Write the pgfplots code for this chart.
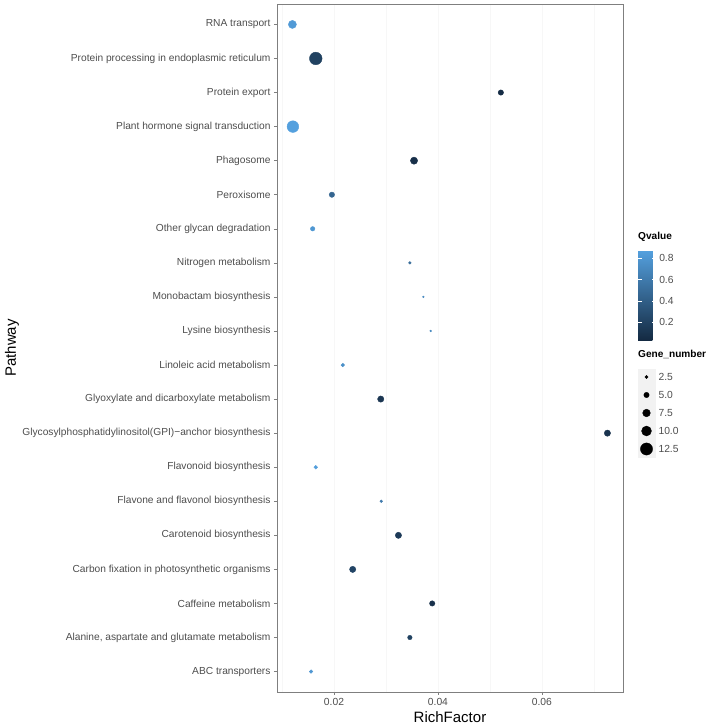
\documentclass[border=0pt]{standalone}
\usepackage{pgfplots}
\pgfplotsset{compat=1.18}
\usepackage{pgfplotstable}
\usepackage{fontspec}
\setmainfont{Liberation Sans}

\definecolor{tickgray}{HTML}{4D4D4D}
\definecolor{framegray}{HTML}{7F7F7F}
\definecolor{gridgray}{HTML}{F7F7F7}
\definecolor{keygray}{HTML}{F2F2F2}

\pgfplotstableread{
idx rf q g
1 0.0156 0.80 3
2 0.0346 0.20 4
3 0.0389 0.08 5
4 0.0236 0.22 6
5 0.0324 0.15 6
6 0.0291 0.60 2
7 0.0165 0.85 3
8 0.0726 0.10 6
9 0.0290 0.12 6
10 0.0217 0.75 3
11 0.0386 0.70 1
12 0.0372 0.70 1
13 0.0346 0.50 2
14 0.0159 0.80 4
15 0.0196 0.45 5
16 0.0354 0.07 7
17 0.0121 0.87 12
18 0.0521 0.05 5
19 0.0165 0.20 13
20 0.0120 0.82 8
}\data

\pgfplotstableread{
x y g
0.5 5 2.5
0.5 4 5.0
0.5 3 7.5
0.5 2 10.0
0.5 1 12.5
}\sizekey

\begin{document}
\begin{tikzpicture}[x=1pt,y=1pt]
\path[use as bounding box] (0,0) rectangle (710,726);
\begin{axis}[
  at={(277pt,34pt)}, anchor=south west,
  scale only axis, width=346pt, height=688pt,
  xmin=0.00904, xmax=0.0756, ymin=0.4, ymax=20.6,
  scaled x ticks=false,
  xtick={0.02,0.04,0.06}, xticklabels={0.02,0.04,0.06},
  minor xtick={0.01,0.03,0.05,0.07},
  xmajorgrids, xminorgrids,
  major grid style={gridgray, line width=0.5pt},
  minor grid style={gridgray, line width=0.3pt},
  ytick={1,...,20},
  yticklabels={{ABC transporters},{Alanine, aspartate and glutamate metabolism},{Caffeine metabolism},{Carbon fixation in photosynthetic organisms},{Carotenoid biosynthesis},{Flavone and flavonol biosynthesis},{Flavonoid biosynthesis},{Glycosylphosphatidylinositol(GPI)−anchor biosynthesis},{Glyoxylate and dicarboxylate metabolism},{Linoleic acid metabolism},{Lysine biosynthesis},{Monobactam biosynthesis},{Nitrogen metabolism},{Other glycan degradation},{Peroxisome},{Phagosome},{Plant hormone signal transduction},{Protein export},{Protein processing in endoplasmic reticulum},{RNA transport}},
  tick align=outside, xtick pos=bottom, ytick pos=left,
  major tick length=3pt, minor tick length=0pt,
  tick style={framegray, line width=0.5pt},
  axis line style={framegray, line width=0.9pt},
  yticklabel style={font=\fontsize{10.2pt}{12pt}\selectfont, text=tickgray},
  xticklabel style={font=\fontsize{10.3pt}{12pt}\selectfont, text=tickgray},
  xlabel={RichFactor}, ylabel={Pathway},
  label style={font=\fontsize{15pt}{17pt}\selectfont},
  xlabel style={at={(axis description cs:0.5,-0.0363)}, anchor=center},
  ylabel style={at={(axis description cs:-0.766,0.5)}, anchor=center},
  colormap={gg}{rgb255=(20,42,66) rgb255=(84,160,222)},
  point meta min=0.034, point meta max=0.871,
  colorbar,
  colorbar style={
    at={(1.0434,0.6414)}, anchor=north west,
    scale only axis, width=17.7pt, height=89.3pt,
    ytick={0.2,0.4,0.6,0.8}, yticklabels={0.2,0.4,0.6,0.8},
    ytick pos=both, yticklabel pos=right,
    tick align=inside, major tick length=3.5pt,
    tick style={white, line width=0.6pt},
    axis line style={draw=none},
    yticklabel style={font=\fontsize{10.3pt}{12pt}\selectfont, text=tickgray},
    title={\textbf{Qvalue}},
    title style={at={(0,1)}, anchor=south west, font=\fontsize{10.1pt}{12pt}\selectfont, inner sep=0pt, yshift=3pt},
  },
]
\addplot[scatter, only marks, mark=*,
  scatter src=explicit,
  scatter/use mapped color={draw=mapped color, fill=mapped color},
  visualization depends on={0.45*\thisrow{g}+0.45 \as \msize},
  scatter/@pre marker code/.append style={/tikz/mark size=\msize}]
  table[x=rf, y=idx, meta=q] {\data};
\end{axis}

\begin{axis}[
  at={(638pt,268pt)}, anchor=south west,
  scale only axis, width=17pt, height=90pt,
  xmin=0, xmax=1, ymin=0.5, ymax=5.5,
  xtick=\empty, ytick={1,...,5},
  yticklabels={12.5,10.0,7.5,5.0,2.5},
  ytick pos=right, yticklabel pos=right,
  major tick length=0pt,
  axis line style={draw=none},
  yticklabel style={font=\fontsize{10.3pt}{12pt}\selectfont, text=tickgray},
  title={\textbf{Gene\_number}},
  title style={at={(0,1)}, anchor=south west, font=\fontsize{10.1pt}{12pt}\selectfont, inner sep=0pt, yshift=3pt},
  clip=false,
]
\addplot[only marks, mark=square*, mark size=8.3pt, color=keygray] table[x=x, y=y] {\sizekey};
\addplot[scatter, only marks, mark=*,
  scatter/use mapped color={draw=black, fill=black},
  visualization depends on={0.45*\thisrow{g}+0.45 \as \ksize},
  scatter/@pre marker code/.append style={/tikz/mark size=\ksize}]
  table[x=x, y=y, meta=g] {\sizekey};
\end{axis}
\end{tikzpicture}
\end{document}
